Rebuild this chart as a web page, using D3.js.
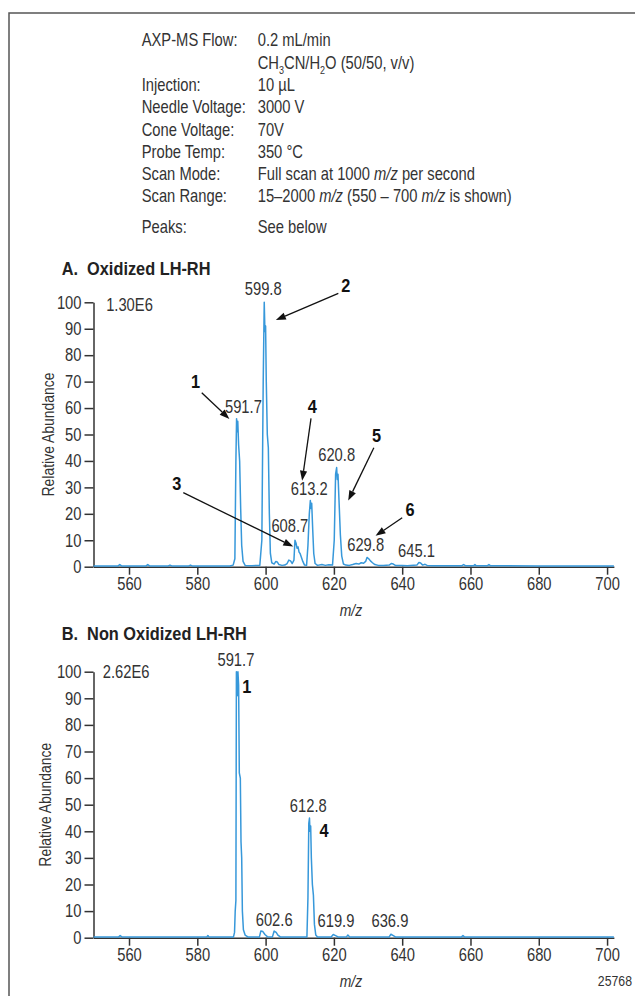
<!DOCTYPE html>
<html><head><meta charset="utf-8">
<script src="https://cdn.jsdelivr.net/npm/d3@7"></script>
<style>
body{margin:0;background:#fff;}
svg{display:block;font-family:"Liberation Sans",Arial,sans-serif;}
</style></head><body>
<svg id="c" width="635" height="996"></svg>
<script>
// ---------- data ----------
const headerLabels = ["AXP-MS Flow:", "", "Injection:", "Needle Voltage:", "Cone Voltage:", "Probe Temp:", "Scan Mode:", "Scan Range:", "Peaks:"];
const headerValues = [
  [["0.2 mL/min"]],
  [["CH"],["3","sub"],["CN/H"],["2","sub"],["O (50/50, v/v)"]],
  [["10 µL"]],
  [["3000 V"]],
  [["70V"]],
  [["350 °C"]],
  [["Full scan at 1000 "],["m/z","it"],[" per second"]],
  [["15–2000 "],["m/z","it"],[" (550 – 700 "],["m/z","it"],[" is shown)"]],
  [["See below"]]
];
const yTicks = [0,10,20,30,40,50,60,70,80,90,100];
const xTicks = [560,580,600,620,640,660,680,700];

const mzA = [549.6,553,556.8,557.3,557.8,561,565,565.5,566,571.5,572,572.5,577.5,578,578.5,585,589.5,
 590.5,591.0,591.3,591.5,591.7,591.85,592.1,592.4,592.7,593.0,593.4,594,
 596,598.3,598.9,599.3,599.6,599.8,600.0,600.2,600.5,600.8,601.1,601.4,601.8,602.5,603.0,603.4,603.9,604.8,
 605.6,606.3,606.8,607.3,607.8,608.3,608.6,608.9,609.2,609.5,609.8,610.1,610.5,610.9,611.4,
 612.0,612.4,612.8,613.1,613.3,613.5,613.8,614.1,614.5,615.2,616.5,617.5,618.5,
 619.6,620.1,620.5,620.8,621.0,621.2,621.5,621.9,622.3,622.8,623.5,624.5,625.5,626.5,627.3,628.0,628.7,
 629.3,629.7,630.2,630.7,631.3,632,633,634.5,636.2,636.8,637.4,638,640,641.5,644.3,644.9,645.4,646,646.7,647.3,
 649,657.5,658,658.5,661,661.3,661.6,665,665.4,665.8,680,702];
const abA = [0.3,0.3,0.3,0.8,0.3,0.3,0.3,0.8,0.3,0.3,0.6,0.3,0.3,0.6,0.3,0.3,0.3,
 0.6,3,40,56,51,55,46,40,22,8,2,0.5,
 0.4,0.5,10,70,100,89,91,70,50,45,20,5,1.5,1,2,1.8,0.8,0.5,
 0.6,1.2,2.5,2.2,1.2,2.5,10,9,7,7.5,5.5,5,3.5,2,0.6,
 0.5,8,20,25,22,24,14,5,1.2,0.5,0.8,0.5,0.7,
 0.6,10,35,37.5,33,35,25,12,4,1,0.6,0.5,0.8,1.2,1,1.5,1.3,
 2,3.5,3,2.2,1.5,0.8,0.5,0.5,0.6,1.2,1.0,0.5,0.5,0.4,0.6,1.6,1.4,0.6,0.9,0.5,
 0.4,0.4,0.8,0.4,0.4,0.8,0.4,0.4,0.8,0.4,0.3,0.3];

const mzB = [549.6,557,557.4,557.9,582.8,583.1,583.4,590.6,590.9,591.1,591.3,591.45,591.7,591.9,592.1,592.3,592.6,592.8,593.0,593.2,593.5,594,594.8,
 598.2,598.6,599.2,599.8,600.5,602.0,602.5,603.1,603.6,604.3,
 612.1,612.4,612.65,612.85,613.0,613.2,613.4,613.7,614.0,614.3,614.7,615.2,
 619.2,619.8,620.5,621.2,623.7,624.1,624.6,636.2,636.7,637.4,638,657.4,657.8,658.2,702];
const abB = [0.3,0.3,0.8,0.3,0.3,0.8,0.3,0.3,2,10,14,100,91,100,95,62,60,36,30,10,3,1,0.3,
 0.3,2.5,2.3,1.2,0.4,0.3,2.5,2,1,0.3,
 0.3,15,43,45,40,42,30,20,16,5,1,0.3,
 0.3,1.2,0.8,0.3,0.3,1,0.3,0.3,1.3,0.8,0.3,0.3,0.8,0.3,0.3];

// peak labels (text, m/z, abundance of label centre)
const peakTextA = ["599.8","591.7","613.2","620.8","608.7","629.8","645.1"];
const peakMzA   = [599.3, 593.5, 612.8, 620.8, 607.1, 629.3, 644.2];
const peakAbA   = [105.3, 60.5, 29.4, 42.2, 15.4, 8.2, 5.9];
const peakTextB = ["591.7","612.8","602.6","619.9","636.9"];
const peakMzB   = [591.3, 612.5, 602.5, 620.6, 636.4];
const peakAbB   = [104.7, 49.5, 6.9, 6.3, 6.3];

// peak numbers and arrows (chart A)
const numTextA = ["1","2","3","4","5","6"];
const numMzA   = [579.5, 623.5, 574.0, 613.7, 632.5, 642.3];
const numAbA   = [70.0, 106.5, 31.5, 60.8, 49.5, 21.8];
const arrowFromMzA = [581.3, 621.3, 575.9, 613.3, 631.7, 640.0];
const arrowFromAbA = [65.8, 103.4, 28.0, 56.1, 45.0, 18.5];
const arrowToMzA   = [589.4, 603.0, 608.1, 610.7, 624.2, 632.2];
const arrowToAbA   = [55.9, 93.3, 7.6, 32.5, 25.0, 11.7];
// peak numbers (chart B)
const numTextB = ["1","4"];
const numMzB   = [594.5, 617.1];
const numAbB   = [94.4, 40.2];

const scaleA = "1.30E6", scaleB = "2.62E6";
const titleA = "A.\u00A0\u00A0Oxidized LH-RH", titleB = "B.\u00A0\u00A0Non Oxidized LH-RH";
const figId = "25768";

// ---------- drawing ----------
const svg = d3.select("#c");
const BLUE = "#3798da", AX = "#333", TXT = "#333";
const SX = 0.82; // condensed look

function T(g, px, py, str, size, extra){
  const sx = extra && extra.sx ? extra.sx : SX;
  const t = g.append("text")
    .attr("transform",`translate(${px},${py})${extra&&extra.rot?" rotate("+extra.rot+")":""} scale(${sx},1)`)
    .attr("dy","0.35em").attr("font-size",size).attr("fill",TXT);
  if(str!==null) t.text(str);
  return t;
}

// frame (top & left visible)
svg.append("path").attr("d","M9,996V13H635").attr("fill","none").attr("stroke","#555").attr("stroke-width",1.5);

// header
const hdr = svg.append("g");
const hy0 = 40, hdy = 22.3;
headerLabels.forEach((t,i)=>{
  const y = hy0 + i*hdy + (i===8?8:0);
  T(hdr,141.7,y,t,18);
  const tx = T(hdr,257.7,y,null,18);
  let shift = 0;
  headerValues[i].forEach(p=>{
    const ts = tx.append("tspan").text(p[0]);
    if(p[1]==="sub"){ ts.attr("font-size",11).attr("dy",5); shift=5; }
    else { if(shift){ ts.attr("dy",-shift); shift=0; } if(p[1]==="it") ts.attr("font-style","italic"); }
  });
});

const x = d3.scaleLinear().domain([549.6,702]).range([93.5,613.9]);

function arrow(g,x1,y1,x2,y2){
  const a = Math.atan2(y2-y1,x2-x1), L=10, W=3.6;
  const bx = x2 - L*Math.cos(a), by = y2 - L*Math.sin(a);
  g.append("line").attr("x1",x1).attr("y1",y1).attr("x2",bx).attr("y2",by).attr("stroke","#111").attr("stroke-width",1.3);
  g.append("path").attr("d",`M${x2},${y2}L${bx+W*Math.sin(a)},${by-W*Math.cos(a)}L${bx-W*Math.sin(a)},${by+W*Math.cos(a)}Z`).attr("fill","#111");
}

function panel(opts){
  const y = d3.scaleLinear().domain([0,100]).range(opts.yr);
  const g = svg.append("g");
  T(g,61.7,opts.titleY,opts.title,19,{sx:0.86}).attr("font-weight","bold").attr("fill","#222");
  // axes
  const ya = g.append("g").attr("transform",`translate(${x.range()[0]},0)`)
    .call(d3.axisLeft(y).tickValues(yTicks).tickSize(9).tickPadding(3).tickSizeOuter(0));
  const xa = g.append("g").attr("transform",`translate(0,${opts.yr[0]})`)
    .call(d3.axisBottom(x).tickValues(xTicks).tickSize(8).tickPadding(3).tickSizeOuter(0));
  [ya,xa].forEach(a=>{
    a.selectAll("path,line").attr("stroke",AX).attr("stroke-width",1.5);
    a.selectAll("text").attr("font-size",18).attr("fill",TXT).attr("font-family",null);
  });
  ya.selectAll(".tick text").attr("transform",`translate(-12,0) scale(${SX},1)`).attr("x",0);
  xa.selectAll(".tick text").attr("transform",`translate(0,11) scale(${SX},1)`).attr("y",0).attr("dy","0.71em");
  T(g,opts.ylabX,(opts.yr[0]+opts.yr[1])/2,"Relative Abundance",17,{rot:-90}).attr("text-anchor","middle");
  T(g,(x(550)+x(700))/2,opts.yr[0]+43,"m/z",17).attr("text-anchor","middle").attr("font-style","italic");
  // spectrum
  const line = d3.line().x(d=>x(d[0])).y(d=>y(d[1]));
  const pts = opts.mz.map((m,i)=>[m,opts.ab[i]]);
  g.append("path").datum(pts).attr("d",line).attr("fill","none").attr("stroke",BLUE).attr("stroke-width",1.5).attr("stroke-linejoin","round");
  // scale factor
  T(g,x(opts.scaleMz),y(opts.scaleAb),opts.scaleText,18);
  // peak labels
  opts.pt.forEach((t,i)=>{
    T(g,x(opts.pm[i]),y(opts.pa[i]),t,18).attr("text-anchor","middle");
  });
  opts.nt.forEach((t,i)=>{
    T(g,x(opts.nm[i]),y(opts.na[i]),t,19,{sx:0.86}).attr("text-anchor","middle").attr("font-weight","bold").attr("fill","#111");
  });
  if(opts.af){
    opts.af.forEach((m,i)=>arrow(g,x(m),y(opts.afa[i]),x(opts.at[i]),y(opts.ata[i])));
  }
}

panel({yr:[566.7,302.3], titleY:268, title:titleA, ylabX:48, mz:mzA, ab:abA, scaleText:scaleA, scaleMz:553.3, scaleAb:99.2,
  pt:peakTextA, pm:peakMzA, pa:peakAbA, nt:numTextA, nm:numMzA, na:numAbA,
  af:arrowFromMzA, afa:arrowFromAbA, at:arrowToMzA, ata:arrowToAbA});
panel({yr:[937.7,671.7], titleY:633, title:titleB, ylabX:45, mz:mzB, ab:abB, scaleText:scaleB, scaleMz:552.3, scaleAb:100,
  pt:peakTextB, pm:peakMzB, pa:peakAbB, nt:numTextB, nm:numMzB, na:numAbB});

T(svg,632,981,figId,15).attr("text-anchor","end");
</script></body></html>
